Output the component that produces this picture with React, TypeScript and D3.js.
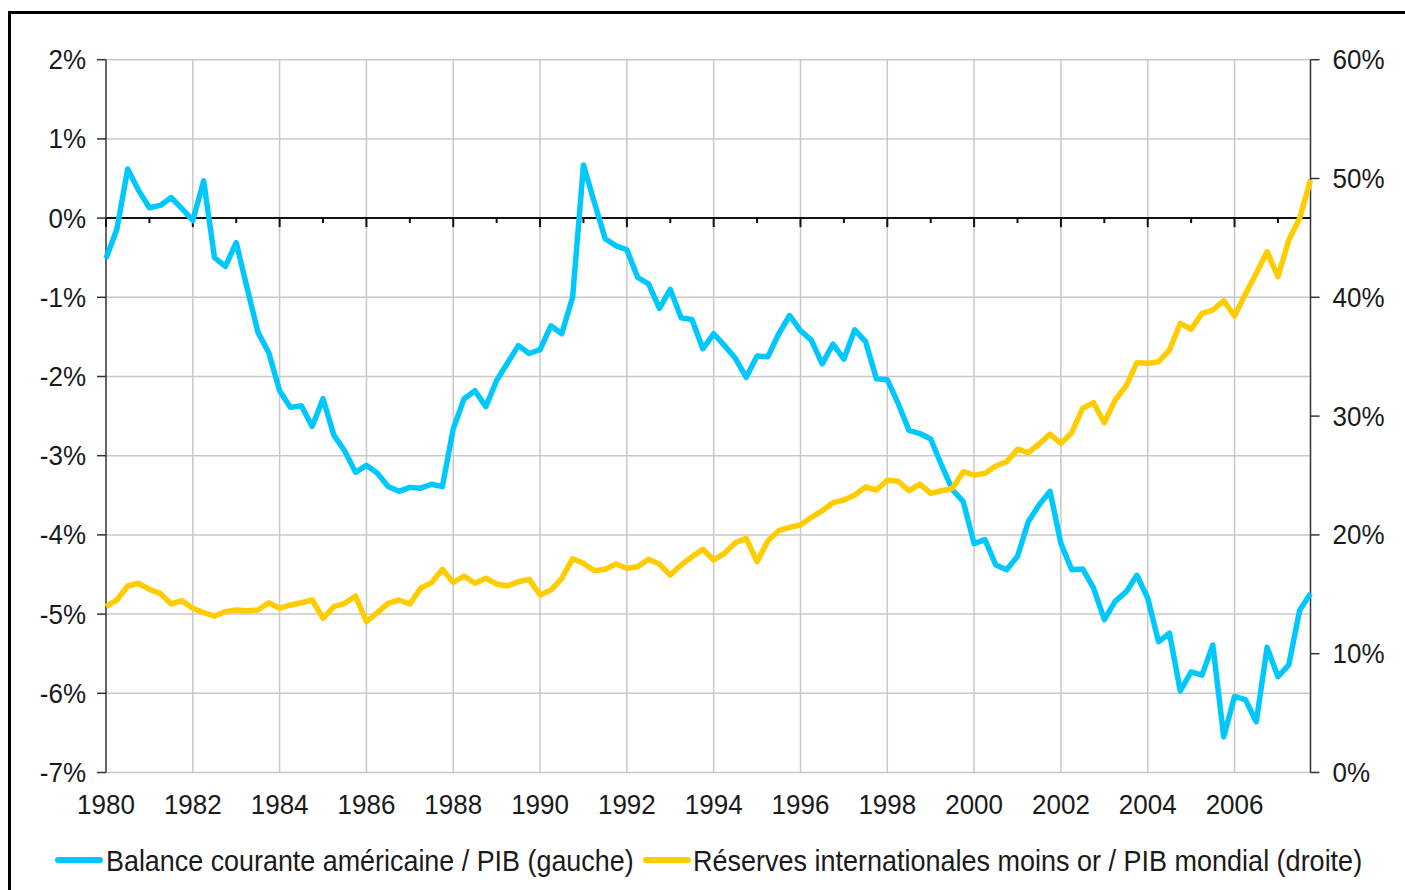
import React from 'react';
import * as d3 from 'd3';

// quarterly data, 1980Q1 .. 2007Q4
const startYear = 1980;

// Balance courante américaine / PIB (%), left axis
const balanceCourante = [
  -0.51, -0.14, 0.62, 0.35,
  0.13, 0.16, 0.26, 0.12,
  -0.03, 0.47, -0.5, -0.61,
  -0.31, -0.88, -1.44, -1.7,
  -2.18, -2.39, -2.37, -2.63,
  -2.28, -2.74, -2.94, -3.21,
  -3.12, -3.22, -3.39, -3.45,
  -3.4, -3.41, -3.36, -3.39,
  -2.66, -2.28, -2.18, -2.38,
  -2.05, -1.83, -1.61, -1.71,
  -1.66, -1.36, -1.46, -1.0,
  0.67, 0.2, -0.26, -0.35,
  -0.4, -0.75, -0.83, -1.14,
  -0.9, -1.26, -1.28, -1.65,
  -1.46, -1.61, -1.77, -2.01,
  -1.74, -1.75, -1.46, -1.23,
  -1.42, -1.54, -1.84, -1.59,
  -1.78, -1.41, -1.56, -2.03,
  -2.04, -2.34, -2.68, -2.72,
  -2.79, -3.12, -3.43, -3.58,
  -4.11, -4.06, -4.38, -4.44,
  -4.27, -3.83, -3.62, -3.45,
  -4.11, -4.44, -4.43, -4.67,
  -5.07, -4.84, -4.72, -4.51,
  -4.8, -5.35, -5.24, -5.97,
  -5.73, -5.77, -5.39, -6.55,
  -6.04, -6.08, -6.36, -5.42,
  -5.79, -5.64, -4.95, -4.74,
];

// Réserves internationales moins or / PIB mondial (%), right axis
const reserves = [
  13.96, 14.52, 15.7, 15.93,
  15.42, 15.08, 14.18, 14.46,
  13.82, 13.45, 13.17, 13.54,
  13.68, 13.62, 13.68, 14.29,
  13.82, 14.1, 14.29, 14.52,
  12.98, 13.96, 14.24, 14.86,
  12.69, 13.45, 14.24, 14.52,
  14.18, 15.51, 15.98, 17.1,
  16.0, 16.54, 15.93, 16.35,
  15.87, 15.7, 16.06, 16.26,
  14.94, 15.36, 16.35, 18.0,
  17.61, 16.99, 17.1, 17.55,
  17.19, 17.32, 17.95, 17.55,
  16.62, 17.47, 18.16, 18.79,
  17.89, 18.45, 19.34, 19.71,
  17.74, 19.51, 20.35, 20.64,
  20.83, 21.48, 22.04, 22.71,
  22.94, 23.36, 24.03, 23.78,
  24.6, 24.52, 23.72, 24.28,
  23.5, 23.72, 23.92, 25.32,
  25.04, 25.18, 25.8, 26.16,
  27.21, 26.92, 27.65, 28.49,
  27.71, 28.6, 30.66, 31.13,
  29.44, 31.36, 32.53, 34.5,
  34.44, 34.58, 35.56, 37.81,
  37.31, 38.65, 38.93, 39.71,
  38.43, 40.28, 42.0, 43.84,
  41.73, 44.82, 46.65, 49.87,
];

const yearTicks = [1980, 1982, 1984, 1986, 1988, 1990, 1992, 1994, 1996, 1998, 2000, 2002, 2004, 2006];
const minorYears = [1981, 1983, 1985, 1987, 1989, 1991, 1993, 1995, 1997, 1999, 2001, 2003, 2005, 2007];
const leftTicks = [-7, -6, -5, -4, -3, -2, -1, 0, 1, 2];
const rightTicks = [0, 10, 20, 30, 40, 50, 60];

const legendLabels = [
  'Balance courante américaine / PIB (gauche)',
  'Réserves internationales moins or / PIB mondial (droite)',
];

const BLUE = '#00c8ff';
const YELLOW = '#ffcc00';
const FONT = 'Arial, "Liberation Sans", sans-serif';

// text slightly taller than wide, like the original
const Label = ({ x, y, anchor = 'start', size = 26, children }: any) => (
  <text
    transform={`translate(${x},${y}) scale(1,1.08)`}
    textAnchor={anchor}
    fontSize={size}
    fill="#1a1a1a"
  >
    {children}
  </text>
);

const App: React.FC = () => {
  const left = 106;
  const right = 1310.5;
  const top = 59.7;
  const bottom = 772.5;

  const x = d3.scaleLinear().domain([startYear, 2007.75]).range([left, right]);
  const yL = d3.scaleLinear().domain([-7, 2]).range([bottom, top]);
  const yR = d3.scaleLinear().domain([0, 60]).range([bottom, top]);

  const t = (i: number) => startYear + i / 4;

  const lineL = d3
    .line<number>()
    .x((_, i) => x(t(i)))
    .y((d) => yL(d));
  const lineR = d3
    .line<number>()
    .x((_, i) => x(t(i)))
    .y((d) => yR(d));

  return (
    <svg
      width={1405}
      height={890}
      style={{ position: 'absolute', left: 0, top: 0, background: '#fff' }}
      fontFamily={FONT}
    >
      <rect x={0} y={0} width={1405} height={890} fill="#fff" />
      {/* frame */}
      <path d="M9.5,892 L9.5,12.5 L1410,12.5" fill="none" stroke="#000" strokeWidth={3} />

      {/* grid */}
      {leftTicks
        .filter((v) => v !== 0)
        .map((v) => (
          <line key={'h' + v} x1={left} x2={right} y1={yL(v)} y2={yL(v)} stroke="#c8c8c8" strokeWidth={1.5} />
        ))}
      {yearTicks
        .filter((yr) => yr !== startYear)
        .map((yr) => (
          <line key={'v' + yr} x1={x(yr)} x2={x(yr)} y1={top} y2={bottom} stroke="#c8c8c8" strokeWidth={1.5} />
        ))}

      {/* left axis */}
      <line x1={left} x2={left} y1={top} y2={bottom} stroke="#333" strokeWidth={1.5} />
      {leftTicks.map((v) => (
        <g key={'lt' + v}>
          <line x1={left - 9} x2={left} y1={yL(v)} y2={yL(v)} stroke="#333" strokeWidth={1.5} />
          <Label x={left - 20} y={yL(v) + 9.5} anchor="end">
            {v}%
          </Label>
        </g>
      ))}

      {/* right axis */}
      <line x1={right} x2={right} y1={top} y2={bottom} stroke="#333" strokeWidth={1.5} />
      {rightTicks.map((v) => (
        <g key={'rt' + v}>
          <line x1={right} x2={right + 9} y1={yR(v)} y2={yR(v)} stroke="#333" strokeWidth={1.5} />
          <Label x={right + 22} y={yR(v) + 9.5}>
            {v}%
          </Label>
        </g>
      ))}

      {/* zero line with year ticks */}
      <line x1={left} x2={right} y1={yL(0)} y2={yL(0)} stroke="#111" strokeWidth={2} />
      {yearTicks.map((yr) => (
        <line key={'mt' + yr} x1={x(yr)} x2={x(yr)} y1={yL(0)} y2={yL(0) + 9} stroke="#111" strokeWidth={2} />
      ))}
      {minorYears.map((yr) => (
        <line key={'nt' + yr} x1={x(yr)} x2={x(yr)} y1={yL(0)} y2={yL(0) + 5} stroke="#111" strokeWidth={2} />
      ))}

      {/* year labels */}
      {yearTicks.map((yr) => (
        <Label key={'yl' + yr} x={x(yr)} y={bottom + 41} anchor="middle">
          {yr}
        </Label>
      ))}

      {/* series */}
      <path
        d={lineL(balanceCourante) || ''}
        fill="none"
        stroke={BLUE}
        strokeWidth={5.5}
        strokeLinejoin="round"
      />
      <path
        d={lineR(reserves) || ''}
        fill="none"
        stroke={YELLOW}
        strokeWidth={5.5}
        strokeLinejoin="round"
      />

      {/* legend */}
      <line x1={58} x2={100} y1={860} y2={860} stroke={BLUE} strokeWidth={6} strokeLinecap="round" />
      <Label x={106} y={871} size={26.9}>
        {legendLabels[0]}
      </Label>
      <line x1={646} x2={688} y1={860} y2={860} stroke={YELLOW} strokeWidth={6} strokeLinecap="round" />
      <Label x={693} y={871} size={27}>
        {legendLabels[1]}
      </Label>
    </svg>
  );
};

export default App;
